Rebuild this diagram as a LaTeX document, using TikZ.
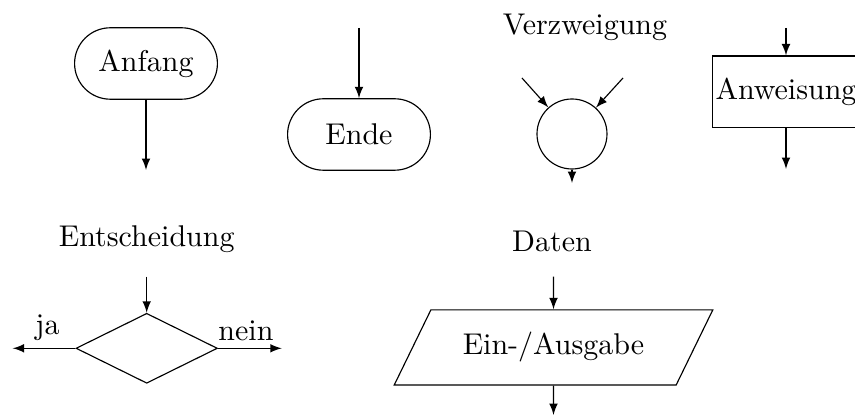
\documentclass[tikz,border=0pt]{standalone}
\usetikzlibrary{shapes.geometric,arrows}

\begin{document}
\begin{tikzpicture}[x=0.35pt,y=-0.35pt]
   \tikzstyle{every node}=[inner sep=1pt, font=\fontsize{10.5}{12.6}\selectfont]
   \tikzstyle{terminal}=[draw, rectangle, rounded corners=12.5pt, minimum width=50pt, minimum height=25pt]
   \tikzstyle{anweisung}=[draw, rectangle, minimum width=51.5pt, minimum height=25pt]
   \tikzstyle{verzweigung}=[draw, circle, minimum size=24.5pt]
   \tikzstyle{entscheidung}=[draw, diamond, minimum width=49.5pt, minimum height=24.5pt]
   \tikzstyle{daten}=[draw, trapezium, trapezium left angle=64, trapezium right angle=116, trapezium stretches body, minimum width=111.5pt, inner ysep=7.9pt]
   \tikzstyle{pfeil}=[->, >=latex]

   \useasboundingbox (0,0) rectangle (855,420);

   % Anfang
   \node[terminal] (anfang) at (146,63.5) {Anfang};
   \coordinate (anfang-aus) at (146,170);
   \draw[pfeil] (anfang) -- (anfang-aus);

   % Ende
   \node[terminal] (ende) at (359,134.5) {Ende};
   \coordinate (ende-ein) at (359,28);
   \draw[pfeil] (ende-ein) -- (ende);

   % Verzweigung
   \node[anchor=base] (verzw-titel) at (585,35) {Verzweigung};
   \node[verzweigung] (verzw) at (572,134) {};
   \coordinate (verzw-l) at (522,78);
   \coordinate (verzw-r) at (623,78);
   \coordinate (verzw-aus) at (572,183);
   \draw[pfeil] (verzw-l) -- (verzw);
   \draw[pfeil] (verzw-r) -- (verzw);
   \draw[pfeil] (verzw) -- (verzw-aus);

   % Anweisung
   \node[anweisung] (anw) at (786,91.7) {Anweisung};
   \coordinate (anw-ein) at (786,28);
   \coordinate (anw-aus) at (786,169);
   \draw[pfeil] (anw-ein) -- (anw);
   \draw[pfeil] (anw) -- (anw-aus);

   % Entscheidung
   \node[anchor=base] (entsch-titel) at (146.7,246.7) {Entscheidung};
   \node[entscheidung] (entsch) at (146.7,348.3) {};
   \coordinate (entsch-ein) at (146.7,276.7);
   \coordinate (entsch-ja) at (12.7,348.3);
   \coordinate (entsch-nein) at (281.7,348.3);
   \draw[pfeil] (entsch-ein) -- (entsch);
   \draw[pfeil] (entsch) -- (entsch-ja);
   \draw[pfeil] (entsch) -- (entsch-nein);
   \node[anchor=base] (ja) at (47.5,335) {ja};
   \node[anchor=base] (nein) at (246,341) {nein};

   % Daten
   \node[anchor=base] (daten-titel) at (552,251.7) {Daten};
   \node[daten] (daten) at (553.5,347.5) {Ein-/Ausgabe};
   \coordinate (daten-ein) at (553.5,276.7);
   \coordinate (daten-aus) at (553.5,415);
   \draw[pfeil] (daten-ein) -- (daten);
   \draw[pfeil] (daten) -- (daten-aus);
\end{tikzpicture}
\end{document}
